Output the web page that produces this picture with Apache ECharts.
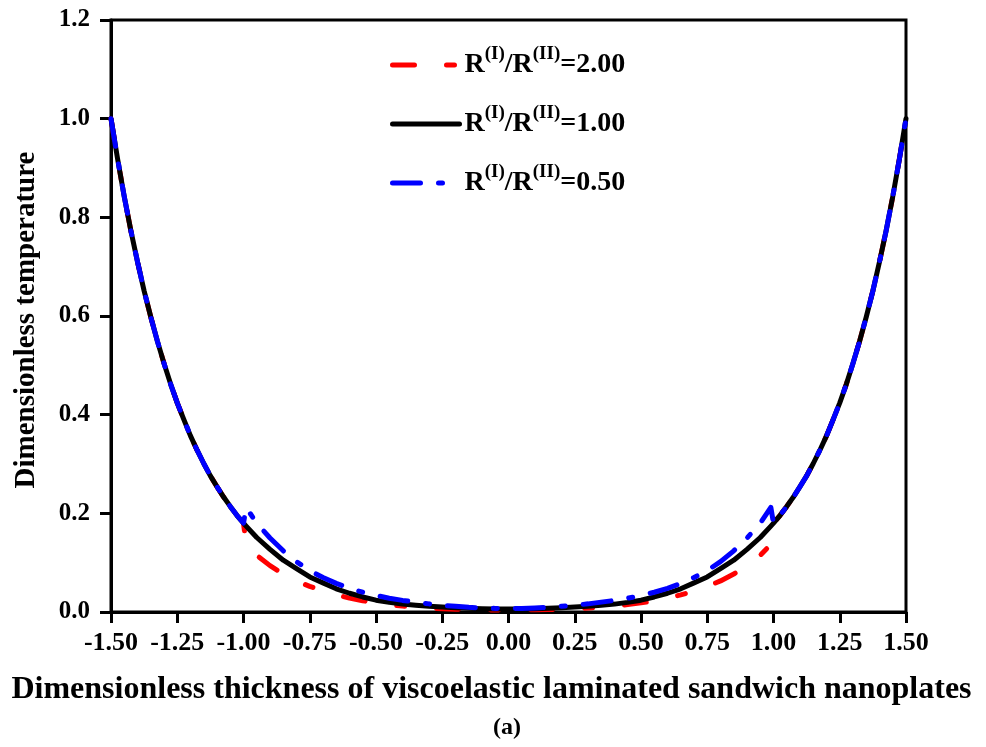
<!DOCTYPE html>
<html>
<head>
<meta charset="utf-8">
<script src="https://cdn.jsdelivr.net/npm/echarts@6/dist/echarts.min.js"></script>
<style>
  html, body { margin: 0; padding: 0; background: #fff; }
  #chart { width: 986px; height: 747px; }
</style>
</head>
<body>
<div id="chart"></div>
<script>
// Dimensionless thickness coordinate (face sheets |z| >= 1, core |z| < 1)
const thickness = [
  -1.5, -1.475, -1.45, -1.425, -1.4, -1.375, -1.35, -1.325, -1.3, -1.275, -1.25,
  -1.225, -1.2, -1.175, -1.15, -1.125, -1.1, -1.075, -1.05, -1.025, -1.0,
  -0.99, -0.95, -0.9, -0.85, -0.8, -0.75, -0.7, -0.65, -0.6, -0.55, -0.5,
  -0.45, -0.4, -0.35, -0.3, -0.25, -0.2, -0.15, -0.1, -0.05, 0,
  0.05, 0.1, 0.15, 0.2, 0.25, 0.3, 0.35, 0.4, 0.45, 0.5,
  0.55, 0.6, 0.65, 0.7, 0.75, 0.8, 0.85, 0.9, 0.95, 0.99,
  1.0, 1.025, 1.05, 1.075, 1.1, 1.125, 1.15, 1.175, 1.2, 1.225,
  1.25, 1.275, 1.3, 1.325, 1.35, 1.375, 1.4, 1.425, 1.45, 1.475, 1.5
];

// Dimensionless temperature, R(I)/R(II) = 2.00
const tempRatio200 = [
  1.0, 0.918, 0.842, 0.773, 0.710, 0.651, 0.598, 0.549, 0.504, 0.462, 0.424,
  0.390, 0.357, 0.328, 0.301, 0.276, 0.254, 0.233, 0.214, 0.196, 0.180,
  0.137, 0.115, 0.094, 0.077, 0.063, 0.052, 0.0425, 0.0347, 0.0282, 0.0228, 0.0185,
  0.0150, 0.0121, 0.0098, 0.0080, 0.0067, 0.0057, 0.0050, 0.0045, 0.0042, 0.0040,
  0.0042, 0.0045, 0.0050, 0.0057, 0.0067, 0.0080, 0.0098, 0.0121, 0.0150, 0.0185,
  0.0228, 0.0282, 0.0347, 0.0425, 0.052, 0.063, 0.077, 0.094, 0.115, 0.137,
  0.180, 0.196, 0.214, 0.233, 0.254, 0.276, 0.301, 0.328, 0.357, 0.390,
  0.424, 0.462, 0.504, 0.549, 0.598, 0.651, 0.710, 0.773, 0.842, 0.918, 1.0
];

// Dimensionless temperature, R(I)/R(II) = 1.00
const tempRatio100 = [
  1.0, 0.918, 0.842, 0.773, 0.710, 0.651, 0.598, 0.549, 0.504, 0.462, 0.424,
  0.390, 0.357, 0.328, 0.301, 0.276, 0.254, 0.233, 0.214, 0.196, 0.180,
  0.174, 0.151, 0.127, 0.105, 0.088, 0.071, 0.059, 0.047, 0.038, 0.0305, 0.024,
  0.0195, 0.016, 0.0138, 0.0117, 0.0100, 0.0086, 0.0075, 0.0067, 0.0062, 0.0060,
  0.0062, 0.0067, 0.0075, 0.0086, 0.0100, 0.0117, 0.0138, 0.016, 0.0195, 0.024,
  0.0305, 0.038, 0.047, 0.059, 0.071, 0.088, 0.105, 0.127, 0.151, 0.174,
  0.180, 0.196, 0.214, 0.233, 0.254, 0.276, 0.301, 0.328, 0.357, 0.390,
  0.424, 0.462, 0.504, 0.549, 0.598, 0.651, 0.710, 0.773, 0.842, 0.918, 1.0
];

// Dimensionless temperature, R(I)/R(II) = 0.50
const tempRatio050 = [
  1.0, 0.918, 0.842, 0.773, 0.710, 0.651, 0.598, 0.549, 0.504, 0.462, 0.424,
  0.390, 0.357, 0.328, 0.301, 0.276, 0.254, 0.233, 0.214, 0.196, 0.180,
  0.212, 0.180, 0.150, 0.124, 0.102, 0.084, 0.070, 0.058, 0.048, 0.040, 0.0335,
  0.028, 0.0235, 0.020, 0.0165, 0.0137, 0.0115, 0.0095, 0.0082, 0.0073, 0.0070,
  0.0073, 0.0082, 0.0095, 0.0115, 0.0137, 0.0165, 0.020, 0.0235, 0.028, 0.0335,
  0.040, 0.048, 0.058, 0.070, 0.084, 0.102, 0.124, 0.150, 0.180, 0.212,
  0.180, 0.196, 0.214, 0.233, 0.254, 0.276, 0.301, 0.328, 0.357, 0.390,
  0.424, 0.462, 0.504, 0.549, 0.598, 0.651, 0.710, 0.773, 0.842, 0.918, 1.0
];

const seriesNames = ['ratio200', 'ratio100', 'ratio050'];
const legendValues = ['2.00', '1.00', '0.50'];
const seriesColors = ['#ff0000', '#000000', '#0000ff'];

const serif = '"Liberation Serif", "Times New Roman", "DejaVu Serif", serif';

function pairs(ys) {
  return thickness.map((x, i) => [x, ys[i]]);
}

function makeSeries(name, ys, color, dash) {
  return {
    name: name,
    type: 'line',
    data: pairs(ys),
    showSymbol: false,
    symbol: 'none',
    smooth: false,
    clip: false,
    lineStyle: { color: color, width: 5, type: dash, cap: 'round', join: 'round' },
    itemStyle: { color: color },
    emphasis: { disabled: true }
  };
}

const chart = echarts.init(document.getElementById('chart'), null, { renderer: 'canvas' });

chart.setOption({
  animation: false,
  backgroundColor: '#ffffff',
  title: {
    text: '(a)',
    left: 488,
    top: 711,
    textStyle: { fontFamily: serif, fontWeight: 'bold', fontSize: 24, color: '#000' }
  },
  grid: {
    left: 111, right: 80, top: 20, bottom: 135,
    show: true, borderColor: '#000', borderWidth: 3,
    containLabel: false, outerBoundsMode: 'none'
  },
  legend: {
    orient: 'vertical',
    left: 385,
    top: 40,
    itemWidth: 67,
    itemHeight: 14,
    itemGap: 25,
    selectedMode: false,
    data: seriesNames,
    itemStyle: { opacity: 0 },
    lineStyle: { width: 5, type: 'inherit', cap: 'round' },
    formatter: function (name) {
      const v = legendValues[seriesNames.indexOf(name)];
      return '{m|R}{s|(I)}{m|/R}{s|(II)}{m|=' + v + '}';
    },
    textStyle: {
      fontFamily: serif,
      color: '#000',
      rich: {
        m: { fontFamily: serif, fontWeight: 'bold', fontSize: 28, lineHeight: 40, color: '#000' },
        s: { fontFamily: serif, fontWeight: 'bold', fontSize: 19, lineHeight: 17, verticalAlign: 'top', color: '#000' }
      }
    }
  },
  xAxis: {
    type: 'value',
    min: -1.5,
    max: 1.5,
    interval: 0.25,
    name: 'Dimensionless thickness of viscoelastic laminated sandwich nanoplates',
    nameLocation: 'middle',
    nameGap: 62,
    nameTextStyle: {
      fontFamily: serif, fontWeight: 'bold', fontSize: 32, color: '#000',
      padding: [0, 34, 0, 0]
    },
    axisLine: { show: true, onZero: false, lineStyle: { color: '#000', width: 3 } },
    axisTick: { show: true, inside: false, length: 11, lineStyle: { color: '#000', width: 3 } },
    splitLine: { show: false },
    axisLabel: {
      show: true, margin: 18, showMinLabel: true, showMaxLabel: true, hideOverlap: false,
      fontFamily: serif, fontWeight: 'bold', fontSize: 26, color: '#000',
      formatter: v => v.toFixed(2)
    }
  },
  yAxis: {
    type: 'value',
    min: 0,
    max: 1.2,
    interval: 0.2,
    name: 'Dimensionless temperature',
    nameLocation: 'middle',
    nameGap: 70,
    nameRotate: 90,
    nameTextStyle: {
      fontFamily: serif, fontWeight: 'bold', fontSize: 29, color: '#000',
      padding: [0, 8, 0, 0]
    },
    axisLine: { show: true, onZero: false, lineStyle: { color: '#000', width: 3 } },
    axisTick: { show: true, inside: false, length: 11, lineStyle: { color: '#000', width: 3 } },
    splitLine: { show: false },
    axisLabel: {
      show: true, margin: 21, showMinLabel: true, showMaxLabel: true, hideOverlap: false,
      fontFamily: serif, fontWeight: 'bold', fontSize: 25, color: '#000',
      formatter: v => v.toFixed(1)
    }
  },
  series: [
    makeSeries(seriesNames[0], tempRatio200, seriesColors[0], [22, 32, 8, 32]),
    makeSeries(seriesNames[1], tempRatio100, seriesColors[1], 'solid'),
    makeSeries(seriesNames[2], tempRatio050, seriesColors[2], [28, 18, 4, 18])
  ]
});
</script>
</body>
</html>
